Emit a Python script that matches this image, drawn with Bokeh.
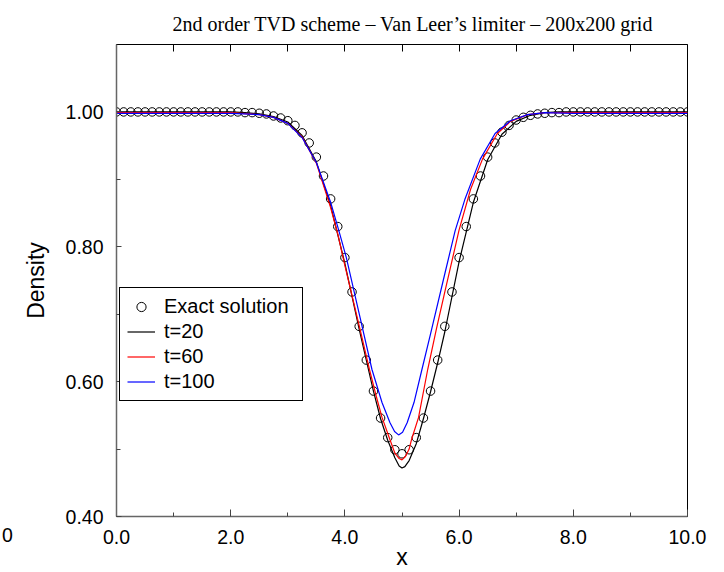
from bokeh.plotting import figure
from bokeh.models import (LinearAxis, FixedTicker, NumeralTickFormatter, Range1d,
                          Legend, LegendItem, Label)
from bokeh.embed import file_html
from bokeh.resources import INLINE

# ---------------- data ----------------
exact_x = [0.0, 0.125, 0.25, 0.375, 0.5, 0.625, 0.75, 0.875, 1.0, 1.125, 1.25, 1.375,
           1.5, 1.625, 1.75, 1.875, 2.0, 2.125, 2.25, 2.375, 2.5, 2.625, 2.75, 2.875,
           3.0, 3.125, 3.25, 3.375, 3.5, 3.625, 3.75, 3.875, 4.0, 4.125, 4.25, 4.375,
           4.5, 4.625, 4.75, 4.875, 5.0, 5.125, 5.25, 5.375, 5.5, 5.625, 5.75, 5.875,
           6.0, 6.125, 6.25, 6.375, 6.5, 6.625, 6.75, 6.875, 7.0, 7.125, 7.25, 7.375,
           7.5, 7.625, 7.75, 7.875, 8.0, 8.125, 8.25, 8.375, 8.5, 8.625, 8.75, 8.875,
           9.0, 9.125, 9.25, 9.375, 9.5, 9.625, 9.75, 9.875, 10.0]
exact_rho = [1.000, 1.000, 1.000, 1.000, 1.000, 1.000, 1.000, 1.000, 1.000, 1.000, 1.000, 1.000,
             1.000, 1.000, 1.000, 1.000, 1.000, 1.000, 0.999, 0.999, 0.998, 0.997, 0.994, 0.991,
             0.987, 0.980, 0.969, 0.954, 0.933, 0.905, 0.871, 0.830, 0.784, 0.733, 0.682, 0.632,
             0.586, 0.546, 0.517, 0.499, 0.493, 0.499, 0.517, 0.546, 0.586, 0.632, 0.682, 0.733,
             0.784, 0.830, 0.871, 0.905, 0.933, 0.954, 0.970, 0.980, 0.988, 0.992, 0.995, 0.997,
             0.998, 0.999, 0.999, 1.000, 1.000, 1.000, 1.000, 1.000, 1.000, 1.000, 1.000, 1.000,
             1.000, 1.000, 1.000, 1.000, 1.000, 1.000, 1.000, 1.000, 1.000]

t20_x = [0.0, 2.0, 2.25, 2.5, 2.75, 3.0, 3.25, 3.5, 3.75, 4.0, 4.25, 4.5, 4.625, 4.75,
         4.875, 4.95, 5.0, 5.05, 5.125, 5.25, 5.375, 5.5, 5.625, 5.75, 6.0, 6.25, 6.5,
         6.75, 7.0, 7.25, 7.5, 7.75, 8.0, 10.0]
t20_rho = [1.0, 1.0, 0.999, 0.997, 0.993, 0.985, 0.965, 0.926, 0.861, 0.775, 0.678, 0.586,
           0.545, 0.513, 0.487, 0.475, 0.472, 0.474, 0.483, 0.508, 0.545, 0.585, 0.628,
           0.674, 0.778, 0.866, 0.929, 0.967, 0.986, 0.995, 0.999, 1.0, 1.0, 1.0]

t60_x = [0.0, 2.0, 2.5, 2.75, 3.0, 3.25, 3.5, 3.75, 3.875, 4.0, 4.25, 4.43, 4.55, 4.65,
         4.78, 4.875, 4.95, 5.0, 5.06, 5.125, 5.17, 5.29, 5.45, 5.6, 5.75, 6.0, 6.2,
         6.41, 6.67, 6.9, 7.2, 7.5, 8.0, 10.0]
t60_rho = [0.999, 0.999, 0.996, 0.992, 0.983, 0.963, 0.924, 0.858, 0.819, 0.772, 0.683,
           0.618, 0.578, 0.547, 0.516, 0.494, 0.486, 0.484, 0.489, 0.500, 0.515, 0.547,
           0.618, 0.677, 0.733, 0.825, 0.885, 0.930, 0.968, 0.986, 0.996, 0.999, 0.999, 0.999]

t100_x = [0.0, 2.0, 2.5, 2.75, 3.0, 3.25, 3.5, 3.75, 3.9, 4.025, 4.25, 4.474, 4.65, 4.79,
          4.87, 4.94, 5.01, 5.09, 5.21, 5.349, 5.5, 5.75, 5.93, 6.1, 6.37, 6.63, 6.9,
          7.2, 7.5, 8.0, 10.0]
t100_rho = [0.998, 0.998, 0.996, 0.992, 0.983, 0.962, 0.925, 0.866, 0.822, 0.784, 0.701,
            0.618, 0.569, 0.539, 0.526, 0.521, 0.525, 0.539, 0.569, 0.618, 0.671, 0.760,
            0.8235, 0.870, 0.930, 0.968, 0.987, 0.996, 0.999, 0.998, 0.998]

x_major = [0, 2, 4, 6, 8, 10]
x_minor = [1, 3, 5, 7, 9]
x_top = [0, 1, 2, 3, 4, 5, 6, 7, 8, 9, 10]
y_major = [0.4, 0.6, 0.8, 1.0]
y_minor = [0.5, 0.7, 0.9]

title_text = "2nd order TVD scheme \u2013 Van Leer\u2019s limiter \u2013 200x200 grid"
labels = ["Exact solution", "t=20", "t=60", "t=100"]
stray_text = "0"   # clipped tick label visible at the far left of the reference

SANS = "Liberation Sans"

# ---------------- figure ----------------
p = figure(width=724, height=572, output_backend="svg", toolbar_location=None,
           x_range=Range1d(0, 10), y_range=Range1d(0.4, 1.1),
           min_border_left=116, min_border_right=37, min_border_top=43,
           min_border_bottom=54)
p.xgrid.visible = False
p.ygrid.visible = False
p.outline_line_color = "black"
p.outline_line_width = 1
p.outline_line_alpha = 1
p.background_fill_color = "white"
p.border_fill_color = "white"

p.title.text = title_text
p.title.text_font = "Liberation Serif"
p.title.text_font_size = "20px"
p.title.text_font_style = "normal"
p.title.align = "left"
p.title.offset = 56
p.title.standoff = 20
p.title.text_color = "black"

xa = p.xaxis[0]
xa.ticker = FixedTicker(ticks=x_major, minor_ticks=x_minor)
xa.formatter = NumeralTickFormatter(format="0.0")
ya = p.yaxis[0]
ya.ticker = FixedTicker(ticks=y_major, minor_ticks=y_minor)
ya.formatter = NumeralTickFormatter(format="0.00")
for ax in (xa, ya):
    ax.major_tick_out = 0
    ax.minor_tick_out = 0
    ax.axis_line_color = "#666666"
    ax.axis_line_width = 1.5
    ax.major_tick_line_color = "#444444"
    ax.minor_tick_line_color = "#444444"
    ax.major_label_text_font = SANS
    ax.major_label_text_font_size = "19.5px"
    ax.major_label_text_color = "black"
    ax.axis_label_text_font = SANS
    ax.axis_label_text_font_size = "23px"
    ax.axis_label_text_font_style = "normal"
    ax.axis_label_text_color = "black"
xa.major_tick_in = 7
xa.minor_tick_in = 4
ya.major_tick_in = 5
ya.minor_tick_in = 4
xa.axis_label = "x"
ya.axis_label = "Density"
xa.major_label_standoff = 13
ya.major_label_standoff = 13
xa.axis_label_standoff = -3
ya.axis_label_standoff = 14

top = LinearAxis(ticker=FixedTicker(ticks=x_top, minor_ticks=[]))
top.major_label_overrides = {t: "" for t in x_top}
top.major_label_standoff = 0
top.major_tick_in = 7
top.major_tick_out = 0
top.minor_tick_in = 0
top.minor_tick_out = 0
top.axis_line_color = None
top.major_tick_line_color = "black"
p.add_layout(top, "above")

# ---------------- data glyphs ----------------
r0 = p.scatter(exact_x, exact_rho, marker="circle", size=8.5, fill_color=None,
               line_color="black", line_width=1)
r1 = p.line(t20_x, t20_rho, line_color="black", line_width=1.2)
r2 = p.line(t60_x, t60_rho, line_color="#ff0000", line_width=1.2)
r3 = p.line(t100_x, t100_rho, line_color="#0000ff", line_width=1.2)

legend = Legend(items=[LegendItem(label=labels[0], renderers=[r0]),
                       LegendItem(label=labels[1], renderers=[r1]),
                       LegendItem(label=labels[2], renderers=[r2]),
                       LegendItem(label=labels[3], renderers=[r3])],
                location=(3, 115))
legend.margin = 0
legend.padding = 7
legend.spacing = 2
legend.glyph_width = 28
legend.glyph_height = 23
legend.label_height = 23
legend.label_width = 131
legend.label_standoff = 9
legend.label_text_font = SANS
legend.label_text_font_size = "20px"
legend.label_text_color = "black"
legend.border_line_color = "black"
legend.border_line_width = 1
legend.border_line_alpha = 1
legend.background_fill_color = "white"
legend.background_fill_alpha = 1
p.add_layout(legend)

stray = Label(x=-1, y=-18, x_units="screen", y_units="screen", text=stray_text,
              text_align="center", text_baseline="middle", text_font=SANS,
              text_font_size="19.5px", text_color="black")
p.add_layout(stray, "left")

open("out.html", "w").write(file_html(p, INLINE))
